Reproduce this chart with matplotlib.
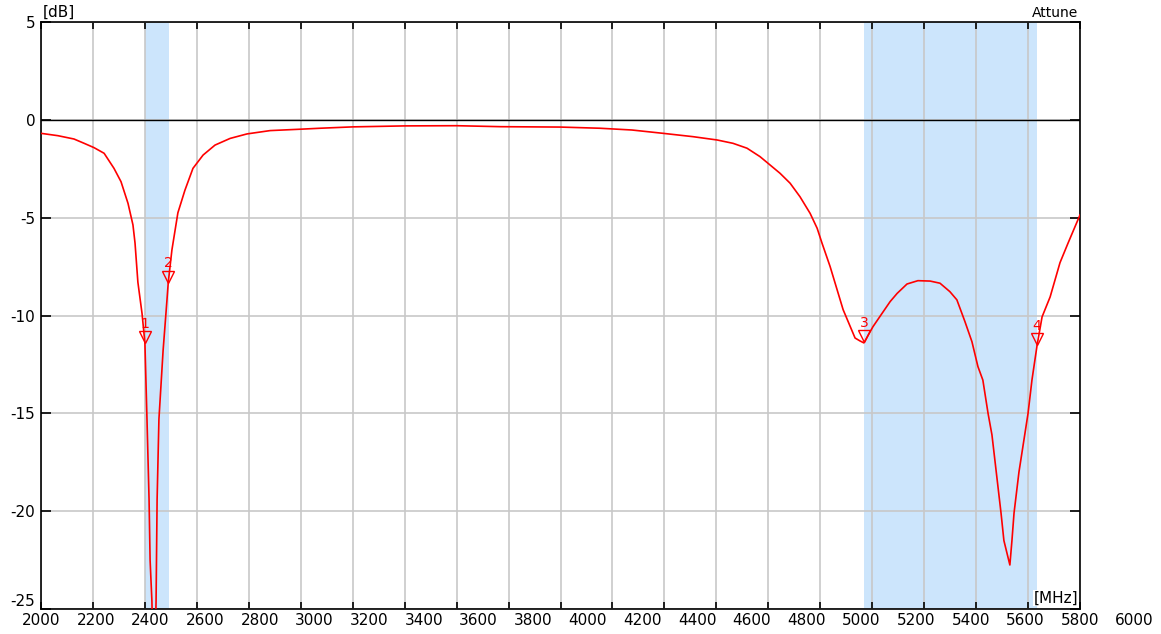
# Attenuation trace with WiFi band markers

import numpy as np
import matplotlib.pyplot as plt
from matplotlib.transforms import offset_copy

# -------------------------------
# Data
# -------------------------------

freq_mhz = [2000, 2065, 2127, 2166, 2204, 2243, 2281, 2308, 2335, 2354,
            2362, 2373, 2389, 2400, 2408, 2416, 2420, 2427, 2435, 2443,
            2447, 2454, 2470, 2485, 2490, 2504, 2527, 2554, 2585, 2624,
            2670, 2728, 2793, 2882, 2997, 3074, 3200, 3400, 3600, 3770,
            4000, 4152, 4275, 4395, 4510, 4603, 4664, 4718, 4768, 4807,
            4845, 4884, 4922, 4961, 4988, 5007, 5038, 5088, 5134, 5153,
            5168, 5203, 5238, 5269, 5296, 5334, 5376, 5423, 5461, 5499,
            5526, 5557, 5584, 5607, 5626, 5646, 5661, 5696, 5707, 5730,
            5738, 5746, 5765, 5800, 5815, 5835, 5854, 5885, 5923, 5954,
            6000]
atten_db = [-0.69, -0.81, -0.98, -1.2, -1.42, -1.71, -2.48, -3.16, -4.27, -5.37,
            -6.3, -8.3, -9.9, -11.4, -15.3, -19.4, -22.5, -24.6, -30.0, -24.6,
            -19.4, -15.3, -11.8, -9.2, -8.3, -6.65, -4.75, -3.6, -2.48, -1.8,
            -1.29, -0.95, -0.72, -0.55, -0.48, -0.43, -0.36, -0.31, -0.3, -0.35,
            -0.37, -0.43, -0.52, -0.69, -0.86, -1.03, -1.2, -1.45, -1.88, -2.31,
            -2.73, -3.24, -3.93, -4.78, -5.54, -6.31, -7.5, -9.7, -11.15, -11.3,
            -11.4, -10.57, -9.89, -9.29, -8.87, -8.39, -8.22, -8.24, -8.35, -8.78,
            -9.2, -10.31, -11.34, -12.61, -13.3, -15.0, -16.1, -20.1, -21.5, -22.75,
            -21.5, -20.1, -18.0, -15.0, -13.3, -11.5, -10.07, -9.05, -7.3, -6.3,
            -4.86]

# shaded bands (MHz)
bands = [(2400, 2492), (5170, 5835)]

# markers
marker_ids = ["1", "2", "3", "4"]
marker_freq = [2400, 2490, 5170, 5835]

# tick labels as printed by the instrument
xtick_labels = [str(v) for v in range(2000, 6001, 200)]
ytick_vals = [5, 0, -5, -10, -15, -20, -25]

# -------------------------------
# Plot
# -------------------------------

plt.rcParams['font.family'] = ['DejaVu Sans']

fig = plt.figure(figsize=(11.61, 6.34), dpi=100)
ax = fig.add_axes([41 / 1161, 1 - 609 / 634, 1039 / 1161, 587 / 634])

ax.set_xlim(2000, 6000)
ax.set_ylim(-25, 5)

for lo, hi in bands:
    ax.axvspan(lo, hi, color="#cce5fc", lw=0, zorder=0)

# grid every 200 MHz / 5 dB
ax.set_xticks(np.arange(2000, 6001, 200))
ax.set_xticklabels([])
ax.set_yticks(ytick_vals)
ylabels = ax.set_yticklabels([str(v) for v in ytick_vals], fontsize=11)
ylabels[-1].set_va("bottom")  # bottom label sits just above the axis line
ax.grid(True, color="#c8c8c8", lw=1.2, zorder=1)
ax.axhline(0, color="black", lw=1.0, zorder=2)

ax.tick_params(axis="x", which="major", direction="in", top=True, bottom=True,
               length=5, width=1.2, color="black")
ax.tick_params(axis="y", direction="in", left=True, right=True,
               length=7, width=1.2, color="black", pad=4)

# printed x labels: 2000..5800 spread over the whole axis, 6000 beyond it
ax.xaxis.remove_overlapping_locs = False
label_pos = np.linspace(2000, 6000, len(xtick_labels) - 1)
ax.set_xticks(label_pos, minor=True)
ax.set_xticklabels(xtick_labels[:-1], minor=True, fontsize=11)
ax.tick_params(axis="x", which="minor", length=0, pad=3)
ax.text(1 + 1 / 19, -0.0071, xtick_labels[-1], transform=ax.transAxes,
        ha="center", va="top", fontsize=11)

for s in ax.spines.values():
    s.set_linewidth(1.2)
    s.set_color("black")

ax.plot(freq_mhz, atten_db, color="#ff0000", lw=1.2, zorder=3)

# markers: tip of the triangle sits on the trace
marker_db = np.interp(marker_freq, freq_mhz, atten_db)
tri_tr = offset_copy(ax.transData, fig=fig, x=0, y=4, units="points")
txt_tr = offset_copy(ax.transData, fig=fig, x=0, y=8.5, units="points")
for mid, f, d in zip(marker_ids, marker_freq, marker_db):
    ax.plot(f, d, marker="v", ms=8, mfc="none", mec="#ff0000", mew=1.0,
            transform=tri_tr, zorder=4)
    ax.text(f, d, mid, color="#ff0000", fontsize=10, ha="center", va="bottom",
            transform=txt_tr, zorder=4)

ax.text(0.002, 1.004, "[dB]", transform=ax.transAxes, ha="left", va="bottom",
        fontsize=11)
ax.text(0.998, 1.004, "Attune", transform=ax.transAxes, ha="right", va="bottom",
        fontsize=10)
ax.text(0.998, 0.006, "[MHz]", transform=ax.transAxes, ha="right", va="bottom",
        fontsize=11, bbox=dict(facecolor="white", edgecolor="none", pad=0.5))

fig.savefig("out.png", dpi=100)
